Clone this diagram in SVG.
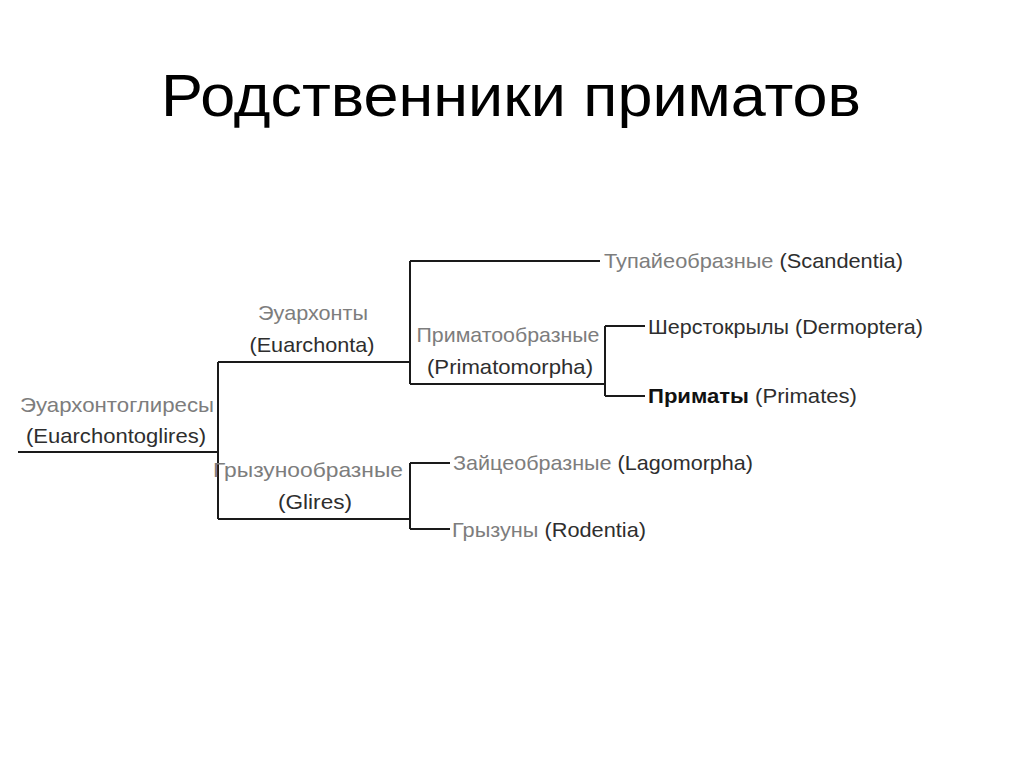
<svg xmlns="http://www.w3.org/2000/svg" width="1024" height="767" viewBox="0 0 1024 767">
<style>
.t{font-family:"Liberation Sans",Arial,sans-serif;font-size:21px;fill:#7d7d7d}
.l{fill:#2e2e2e}
.b{font-weight:bold;fill:#111}
.c{text-anchor:middle}
.ln{stroke:#1a1a1a;stroke-width:2;fill:none}
</style>
<rect width="1024" height="767" fill="#fff"/>
<text x="511" y="116" font-family="'Liberation Sans',Arial,sans-serif" font-size="60" text-anchor="middle" fill="#000" textLength="700" lengthAdjust="spacingAndGlyphs">Родственники приматов</text>
<g id="connectors" class="ln">
<path d="M18 452H218M218 362V519M218 362H410M218 519H410M410 261V384M410 261H600M410 384H605M605 326V396M605 326H645M605 396H645M410 463V529M410 463H450M410 529H450"/>
</g>
<g id="euarchontoglires"><text class="t c" x="117" y="412" textLength="194" lengthAdjust="spacingAndGlyphs">Эуархонтоглиресы</text><text class="t l c" x="116" y="443" textLength="180" lengthAdjust="spacingAndGlyphs">(Euarchontoglires)</text></g>
<g id="euarchonta"><text class="t c" x="313" y="320" textLength="110" lengthAdjust="spacingAndGlyphs">Эуархонты</text><text class="t l c" x="312" y="352" textLength="125" lengthAdjust="spacingAndGlyphs">(Euarchonta)</text></g>
<g id="glires"><text class="t c" x="308" y="477" textLength="190" lengthAdjust="spacingAndGlyphs">Грызунообразные</text><text class="t l c" x="315" y="509" textLength="74" lengthAdjust="spacingAndGlyphs">(Glires)</text></g>
<g id="primatomorpha"><text class="t c" x="508" y="342" textLength="183" lengthAdjust="spacingAndGlyphs">Приматообразные</text><text class="t l c" x="510" y="374" textLength="166" lengthAdjust="spacingAndGlyphs">(Primatomorpha)</text></g>
<g id="scandentia"><text class="t" x="604" y="268" textLength="299" lengthAdjust="spacingAndGlyphs">Тупайеобразные <tspan class="l">(Scandentia)</tspan></text></g>
<g id="dermoptera"><text class="t l" x="648" y="334" textLength="275" lengthAdjust="spacingAndGlyphs">Шерстокрылы (Dermoptera)</text></g>
<g id="primates"><text class="t l" x="648" y="403" textLength="209" lengthAdjust="spacingAndGlyphs"><tspan class="b">Приматы</tspan> (Primates)</text></g>
<g id="lagomorpha"><text class="t" x="453" y="470" textLength="300" lengthAdjust="spacingAndGlyphs">Зайцеобразные <tspan class="l">(Lagomorpha)</tspan></text></g>
<g id="rodentia"><text class="t" x="452" y="537" textLength="194" lengthAdjust="spacingAndGlyphs">Грызуны <tspan class="l">(Rodentia)</tspan></text></g>
</svg>
